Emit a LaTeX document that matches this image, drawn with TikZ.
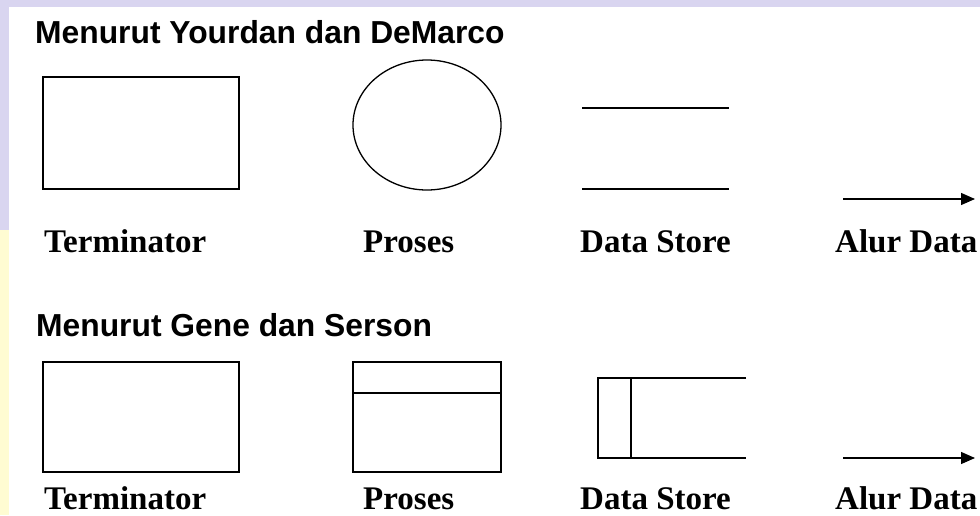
\documentclass[tikz,border=0pt]{standalone}
\usepackage{fontspec}
\setmainfont{Liberation Serif}
\setsansfont{Liberation Sans}
\usetikzlibrary{shapes.geometric,arrows.meta}
\definecolor{lav}{HTML}{D9D5F0}
\definecolor{ylw}{HTML}{FFFCD2}
\tikzset{
  shp/.style={draw, line width=1.3pt, inner sep=0pt, outer sep=0pt},
  ln/.style={line width=1.3pt},
  flow/.style={line width=1.3pt, -{Triangle[length=14pt,width=12pt]}},
  ttl/.style={font=\sffamily\bfseries\fontsize{31.8}{36}\selectfont, anchor=base west, inner sep=0pt},
  lbl/.style={font=\bfseries\fontsize{33}{38}\selectfont, anchor=base west, inner sep=0pt}
}
\begin{document}
\begin{tikzpicture}[x=1pt,y=-1pt]
\useasboundingbox (0,0) rectangle (980,515);
\fill[lav] (0,0) rectangle (980,515);
\fill[ylw] (0,230) rectangle (9,515);
\fill[white] (9,7) rectangle (980,515);
% titles
\node[ttl] (t1) at (35,43) {Menurut Yourdan dan DeMarco};
\node[ttl] (t2) at (36,336) {Menurut Gene dan Serson};
% row 1 shapes
\node[shp, minimum width=196pt, minimum height=112pt] (term1) at (141,133) {};
\node[shp, ellipse, minimum width=148pt, minimum height=130pt] (proc1) at (427,125) {};
\coordinate (ds1a) at (582,108); \coordinate (ds1b) at (729,108);
\coordinate (ds1c) at (582,189); \coordinate (ds1d) at (729,189);
\draw[ln] (ds1a) -- (ds1b);
\draw[ln] (ds1c) -- (ds1d);
\coordinate (f1a) at (843,199); \coordinate (f1b) at (975,199);
\draw[flow] (f1a) -- (f1b);
% row 1 labels
\node[lbl] (l1) at (44,252) {Terminator};
\node[lbl] (l2) at (363,252) {Proses};
\node[lbl] (l3) at (580,252) {Data Store};
\node[lbl] (l4) at (835,252) {Alur Data};
% row 2 shapes
\node[shp, minimum width=196pt, minimum height=110pt] (term2) at (141,417) {};
\node[shp, minimum width=148pt, minimum height=110pt] (proc2) at (427,417) {};
\coordinate (p2l) at (353,393); \coordinate (p2r) at (501,393);
\draw[ln] (p2l) -- (p2r);
\coordinate (ds2a) at (746,378); \coordinate (ds2b) at (598,378);
\coordinate (ds2c) at (598,458); \coordinate (ds2d) at (746,458);
\draw[ln] (ds2a) -- (ds2b) -- (ds2c) -- (ds2d);
\coordinate (ds2e) at (631,378); \coordinate (ds2f) at (631,458);
\draw[ln] (ds2e) -- (ds2f);
\coordinate (f2a) at (843,458); \coordinate (f2b) at (975,458);
\draw[flow] (f2a) -- (f2b);
% row 2 labels
\node[lbl] (m1) at (44,509) {Terminator};
\node[lbl] (m2) at (363,509) {Proses};
\node[lbl] (m3) at (580,509) {Data Store};
\node[lbl] (m4) at (835,509) {Alur Data};
\end{tikzpicture}
\end{document}
